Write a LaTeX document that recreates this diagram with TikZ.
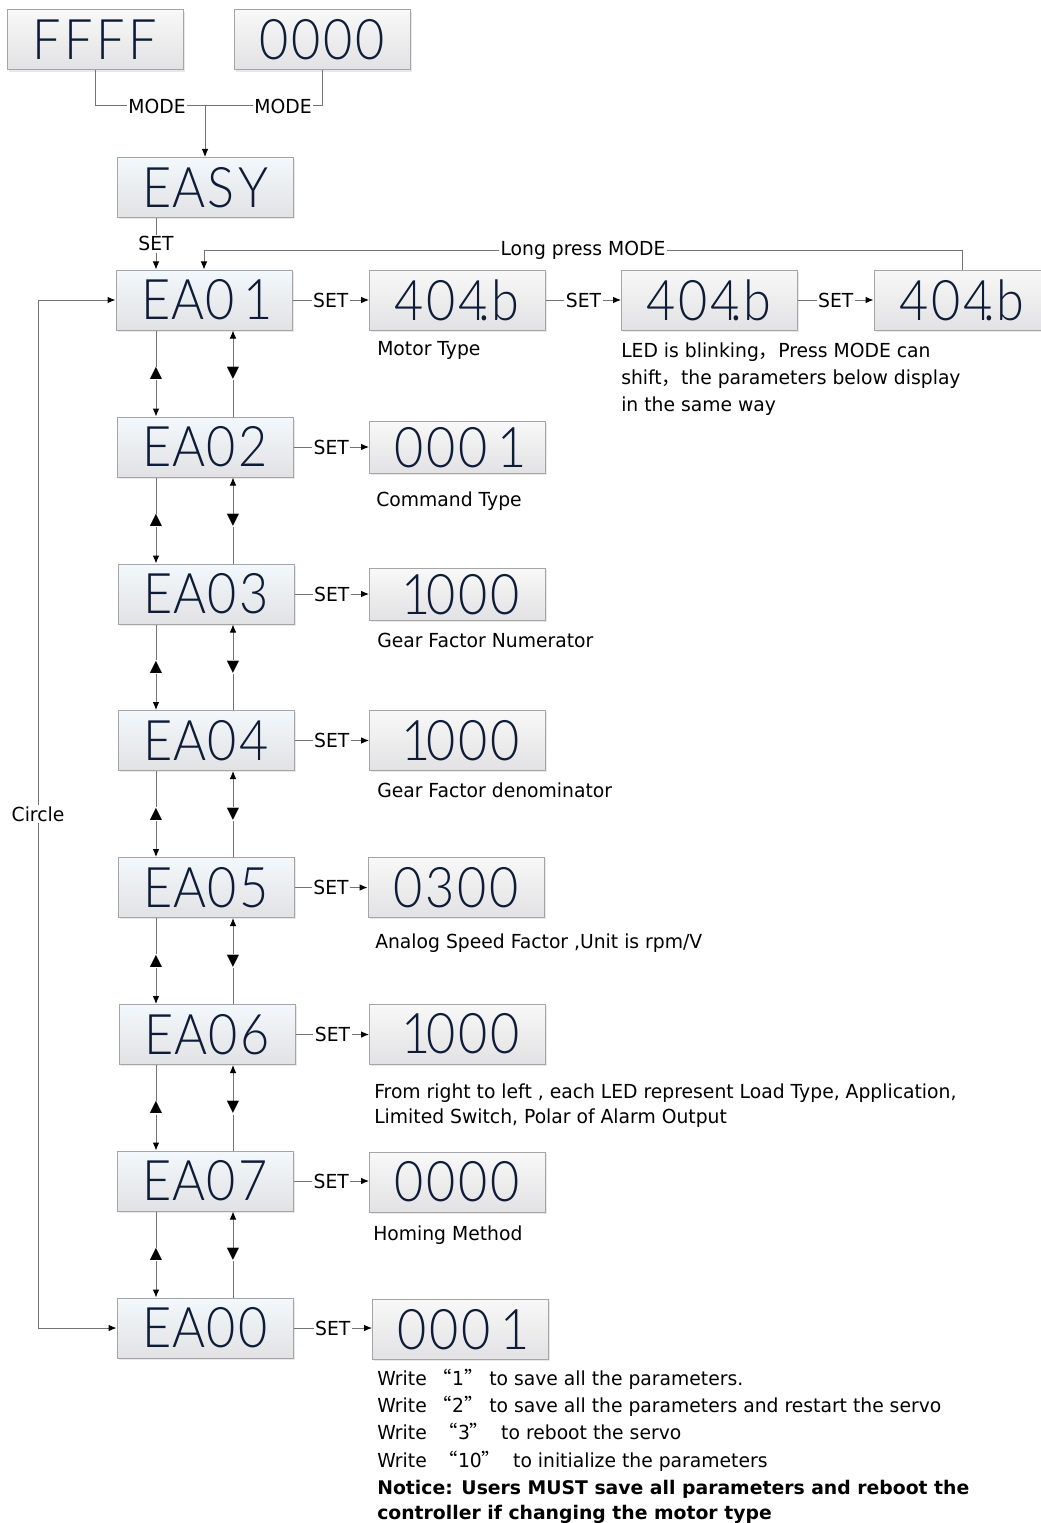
\documentclass[tikz,border=0pt]{standalone}
\usepackage{fontspec}
\usepackage{graphicx}
\usetikzlibrary{arrows.meta,shadows}
\setmainfont{DejaVu Sans}[FakeStretch=0.97]
\IfFontExistsTF{Lato Light}
  {\newfontfamily\lcdfont{Lato Light}\newcommand\lcdsize{\fontsize{42}{42}\selectfont}}
  {\newfontfamily\lcdfont{DejaVu Sans}\newcommand\lcdsize{\fontsize{40}{40}\selectfont}}
\newfontfamily\symfont{DejaVu Sans}
\newfontfamily\notefont{DejaVu Sans}
\newfontfamily\cjk{Noto Sans CJK SC}
\definecolor{linegray}{RGB}{115,115,115}
\definecolor{boxgray}{RGB}{165,165,165}
\definecolor{boxtop}{RGB}{248,248,248}
\definecolor{boxbot}{RGB}{226,226,228}
\definecolor{eatop}{RGB}{242,248,252}
\definecolor{lcdink}{RGB}{14,28,56}
\makeatletter
\def\lcdone{1}
\newcommand\lcd[1]{\scalebox{0.9}[1]{\lcdsize\lcdfont\color{lcdink}\@tfor\lcdch:=#1\do{%
  \ifx\lcdch\lcdone\makebox[26.7pt][r]{\makebox[14pt][c]{\lcdch}\kern1pt}\else\makebox[26.7pt][c]{\lcdch}\fi}}}
\makeatother
\newcommand\lcddotb{\llap{.\kern1pt}b}
\newcommand\cq[1]{{\cjk “}#1{\cjk ”}}
\newcommand\lblsize{\fontsize{14.5}{17}\selectfont}
\begin{document}
\begin{tikzpicture}[x=0.75pt,y=-0.75pt,
  conn/.style={draw=linegray,line width=0.75pt},
  arr/.style={-{Latex[length=6pt,width=5pt,color=black]}},
  dualarr/.style={{Latex[length=6pt,width=5pt,color=black]}-{Latex[length=6pt,width=5pt,color=black]}},
  disp/.style={draw=boxgray,line width=0.75pt,top color=boxtop,bottom color=boxbot,
    minimum width=132pt,minimum height=45pt,inner sep=0pt,
    drop shadow={opacity=0.18,shadow xshift=1.2pt,shadow yshift=-1.2pt}},
  ebox/.style={disp,top color=eatop},
  shortbox/.style={minimum height=38.5pt},
  lbl/.style={anchor=base west,inner sep=0pt,font=\lblsize},
  onl/.style={fill=white,inner sep=1.2pt,font=\lblsize},
  tri/.style={fill=white,inner sep=0.6pt,font=\symfont\fontsize{12}{12}\selectfont},
  note/.style={anchor=base west,inner sep=0pt,font=\notefont\bfseries\fontsize{14.1}{17}\selectfont}]
\useasboundingbox[fill=white] (0,0) rectangle (1041,1523);
\coordinate (lx) at (156,0);
\coordinate (rx) at (233,0);
\coordinate (cx) at (38,0);
\coordinate (ly) at (0,251);
\coordinate (m) at (205,106);

% display boxes
\node[disp] (f) at (95,40) {\lcd{FFFF}};
\node[disp] (z) at (322,40) {\lcd{0000}};
\node[ebox] (easy) at (205,187.5) {\lcd{EASY}};

\node[ebox] (ea1) at (204,300) {\lcd{EA01}};
\node[disp] (p1) at (457.5,300) {\lcd{404\lcddotb}};
\node[disp] (p2) at (709.5,300) {\lcd{404\lcddotb}};
\node[disp] (p3) at (962,300) {\lcd{404\lcddotb}};

\node[ebox] (ea2) at (205,447) {\lcd{EA02}};
\node[disp,shortbox] (v2) at (457.5,447.5) {\lcd{0001}};
\node[ebox] (ea3) at (206,594) {\lcd{EA03}};
\node[disp,shortbox] (v3) at (457.5,594.5) {\lcd{1000}};
\node[ebox] (ea4) at (206,740.5) {\lcd{EA04}};
\node[disp] (v4) at (457.5,740.5) {\lcd{1000}};
\node[ebox] (ea5) at (206,887.5) {\lcd{EA05}};
\node[disp] (v5) at (456,887.5) {\lcd{0300}};
\node[ebox] (ea6) at (207.5,1034.5) {\lcd{EA06}};
\node[disp] (v6) at (457.5,1034) {\lcd{1000}};
\node[ebox] (ea7) at (205,1181) {\lcd{EA07}};
\node[disp] (v7) at (457.5,1182) {\lcd{0000}};
\node[ebox] (ea0) at (205,1328) {\lcd{EA00}};
\node[disp] (v0) at (460.5,1329.5) {\lcd{0001}};

% MODE connectors
\draw[conn] (f.south) |- (m);
\draw[conn] (z.south) |- (m);
\draw[conn,arr] (m) -- (easy.north);
\node[onl] (mode1) at (157,106) {MODE};
\node[onl] (mode2) at (283,106) {MODE};

% SET from EASY
\draw[conn,arr] (easy.south -| lx) -- node[onl] (set0) {SET} (ea1.north -| lx);

% Long press MODE
\draw[conn,arr] (p3.north) -- (p3.north |- ly) -- (ea1.north |- ly) -- (ea1.north);
\node[onl] (lp) at (583,250) {Long press MODE};

% SET arrows to the right
\draw[conn,arr] (ea1.east) -- node[onl]{SET} (p1.west);
\draw[conn,arr] (p1.east) -- node[onl]{SET} (p2.west);
\draw[conn,arr] (p2.east) -- node[onl]{SET} (p3.west);
\foreach \a/\b in {ea2/v2,ea3/v3,ea4/v4,ea5/v5,ea6/v6,ea7/v7,ea0/v0}{
  \draw[conn,arr] (\a.east) -- node[onl]{SET} (\a.east -| \b.west);
}

% up/down chain
\foreach \a/\b in {ea1/ea2,ea2/ea3,ea3/ea4,ea4/ea5,ea5/ea6,ea6/ea7,ea7/ea0}{
  \draw[conn,arr] (\a.south -| lx) -- node[tri]{▲} (\b.north -| lx);
  \draw[conn,arr] (\b.north -| rx) -- node[tri]{▼} (\a.south -| rx);
}

% Circle loop
\draw[conn,dualarr] (ea0.west) -- (ea0.west -| cx) -- (ea1.west -| cx) -- (ea1.west);
\node[onl] (circ) at (38,814) {Circle};

% descriptions
\node[lbl] (t1) at (377,355) {Motor Type};
\node[lbl] (t2a) at (621,357) {LED is blinking{\cjk ，}Press MODE can};
\node[lbl] (t2b) at (621,384) {shift{\cjk ，}the parameters below display};
\node[lbl] (t2c) at (621,411) {in the same way};
\node[lbl] (t3) at (376,506) {Command Type};
\node[lbl] (t4) at (377,647) {Gear Factor Numerator};
\node[lbl] (t5) at (377,797) {Gear Factor denominator};
\node[lbl] (t6) at (375,948) {Analog Speed Factor ,Unit is rpm/V};
\node[lbl] (t7a) at (374,1098) {From right to left , each LED represent Load Type, Application,};
\node[lbl] (t7b) at (374,1123) {Limited Switch, Polar of Alarm Output};
\node[lbl] (t8) at (373,1240) {Homing Method};
\node[lbl] (w1) at (377,1385) {Write \cq{1} to save all the parameters.};
\node[lbl] (w2) at (377,1412) {Write \cq{2} to save all the parameters and restart the servo};
\node[lbl] (w3) at (377,1439) {Write\ \ \cq{3}\ \ to reboot the servo};
\node[lbl] (w4) at (377,1467) {Write\ \ \cq{10}\ \ to initialize the parameters};
\node[note] (n1) at (377,1494) {Notice: Users MUST save all parameters and reboot the};
\node[note] (n2) at (377,1519) {controller if changing the motor type};
\end{tikzpicture}
\end{document}
